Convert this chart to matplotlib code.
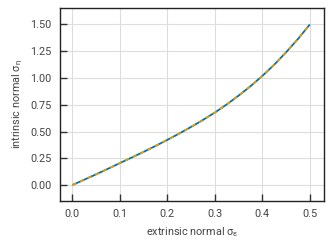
import numpy as np
import matplotlib
matplotlib.use("Agg")
import matplotlib.pyplot as plt

plt.rcParams.update({
    "font.family": ["Roboto", "DejaVu Sans"],
    "font.size": 7.8,
    "mathtext.fontset": "custom",
    "mathtext.rm": "Roboto",
    "mathtext.it": "Roboto",
})

# extrinsic vs intrinsic normal stress
sigma_eps = [0.0, 0.025, 0.05, 0.075, 0.1, 0.125, 0.15, 0.175, 0.2, 0.225, 0.25,
             0.275, 0.3, 0.325, 0.35, 0.375, 0.4, 0.425, 0.45, 0.475, 0.5]
sigma_eta = [0.0, 0.050, 0.100, 0.152, 0.205, 0.257, 0.310, 0.365, 0.422, 0.481, 0.543,
             0.608, 0.677, 0.753, 0.835, 0.923, 1.019, 1.124, 1.240, 1.364, 1.500]

x = np.array(sigma_eps)
y = np.array(sigma_eta)

fig, ax = plt.subplots(figsize=(3.32, 2.47), dpi=100)
ax.plot(x, y, color="#0072B2", linewidth=1.3, solid_capstyle="butt", zorder=3)
ax.plot(x, y, color="#E69F00", linewidth=1.3, linestyle=(0, (2.3, 2.3)), zorder=4)

ax.set_xlim(-0.026, 0.53)
ax.set_ylim(-0.15, 1.655)
ax.set_xticks([0.0, 0.1, 0.2, 0.3, 0.4, 0.5])
ax.set_yticks([0.0, 0.25, 0.5, 0.75, 1.0, 1.25, 1.5])
ax.set_yticklabels(["0.00", "0.25", "0.50", "0.75", "1.00", "1.25", "1.50"])
ax.grid(True, color="#dddddd", linewidth=0.8)
ax.set_axisbelow(True)
ax.tick_params(direction="in", length=5, width=1, colors="#333333", labelcolor="#444444", pad=6)
for s in ax.spines.values():
    s.set_linewidth(1.0)
    s.set_color("#222222")

ax.set_xlabel(r"extrinsic normal $\mathregular{\sigma_\varepsilon}$", color="#444444")
ax.set_ylabel(r"intrinsic normal $\mathregular{\sigma_\eta}$", color="#444444")

fig.subplots_adjust(left=0.181, right=0.976, top=0.968, bottom=0.186)
fig.savefig("out.png", dpi=100)
